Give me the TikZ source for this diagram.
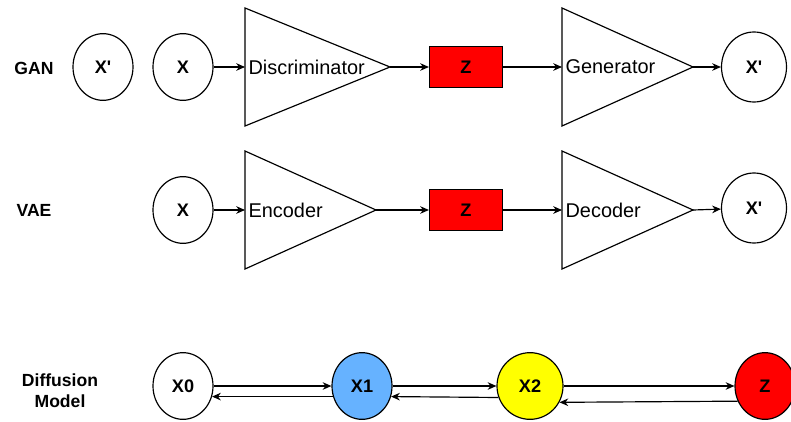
\documentclass[tikz,border=0pt]{standalone}
\usepackage{fontspec}
\setmainfont{Liberation Sans}
\usetikzlibrary{shapes.geometric}
\usetikzlibrary{arrows.meta}
\usepackage{xcolor}
\definecolor{zred}{HTML}{FF0000}
\definecolor{xblue}{HTML}{66B2FF}
\definecolor{xyellow}{HTML}{FFFF00}

\begin{document}
\begin{tikzpicture}[x=0.03cm, y=-0.03cm, line width=1pt, >={Stealth[length=7.5pt,width=6.5pt]},
    var/.style={draw, ellipse, inner sep=0pt, minimum width=1.8cm, minimum height=2cm, font=\fontsize{15.5}{18}\selectfont\bfseries},
    bigvar/.style={var, minimum width=1.95cm, minimum height=2.1cm},
    latent/.style={draw, rectangle, fill=zred, minimum width=2.19cm, minimum height=1.23cm, font=\fontsize{15.5}{18}\selectfont\bfseries},
    net/.style={draw, isosceles triangle, isosceles triangle stretches, shape border rotate=0, inner sep=0pt, outer sep=0pt, minimum width=3.54cm, minimum height=3.93cm, anchor=west},
    nettext/.style={anchor=west, inner sep=0pt, font=\fontsize{17}{20}\selectfont},
    rowlabel/.style={font=\fontsize{15}{18}\selectfont\bfseries, align=center}]
    \useasboundingbox (0,0) rectangle (791,421);

    % GAN
    \node[rowlabel] (ganlabel) at (34,68) {GAN};
    \node[var] (ganxp) at (103,67) {X\textquotesingle};
    \node[var] (ganx) at (183,67) {X};
    \node[net, minimum height=4.35cm] (disc) at (245,67) {};
    \node[nettext] (disctext) at (248,67) {Discriminator};
    \node[latent] (ganz) at (466,67) {Z};
    \node[net] (gen) at (562,67) {};
    \node[nettext] (gentext) at (565,67) {Generator};
    \node[bigvar] (ganout) at (754,67) {X\textquotesingle};

    \draw[->] (ganx) -- (disc.west);
    \draw[->] (disc.apex) -- (ganz);
    \draw[->] (ganz) -- (gen.west);
    \draw[->] (gen.apex) -- (ganout);

    % VAE
    \node[rowlabel] (vaelabel) at (34,210) {VAE};
    \node[var] (vaex) at (183,210) {X};
    \node[net] (enc) at (245,210) {};
    \node[nettext] (enctext) at (248,210) {Encoder};
    \node[latent] (vaez) at (466,210) {Z};
    \node[net] (dec) at (562,210) {};
    \node[nettext] (dectext) at (565,210) {Decoder};
    \node[bigvar] (vaeout) at (754,208) {X\textquotesingle};

    \draw[->] (vaex) -- (enc.west);
    \draw[->] (enc.apex) -- (vaez);
    \draw[->] (vaez) -- (dec.west);
    \draw[->] (dec.apex) -- (vaeout);

    % Diffusion
    \node[rowlabel] (difflabel) at (60,391) {Diffusion\\Model};
    \node[var] (x0) at (183,386) {X0};
    \node[var, fill=xblue] (x1) at (362,386) {X1};
    \node[var, fill=xyellow, minimum width=1.98cm] (x2) at (530,386) {X2};
    \node[var, fill=zred] (dz) at (765,386) {Z};

    \draw[->] (x0) -- (x1);
    \draw[->] (x1.200) -- (x0.-20);
    \draw[->] (x1) -- (x2);
    \draw[->] (x2.200) -- (x1.-20);
    \draw[->] (x2) -- (dz);
    \draw[->] (dz.209) -- (x2.-29);
\end{tikzpicture}
\end{document}
